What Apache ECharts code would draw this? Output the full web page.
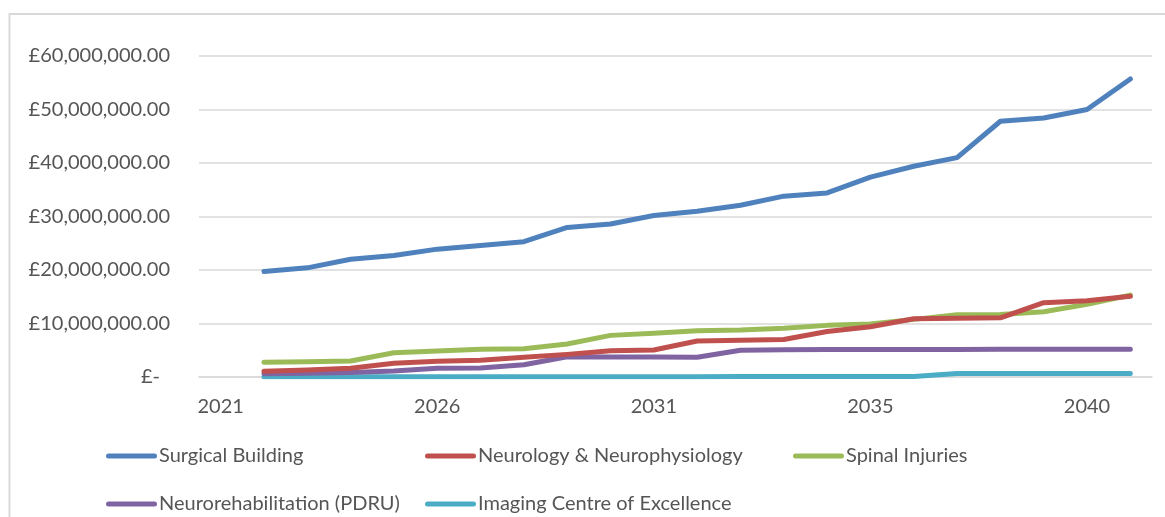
<!DOCTYPE html>
<html>
<head>
<meta charset="utf-8">
<script src="https://cdn.jsdelivr.net/npm/echarts@6/dist/echarts.min.js"></script>
<style>
html,body{margin:0;padding:0;background:#fff;}
#chart{width:1165px;height:517px;}
</style>
</head>
<body>
<div id="chart"></div>
<script>
// Categories (first category has no data)
var categories = ['2021','2022','2023','2024','2025','2026','2027','2028','2029','2030','2031',
  '2032','2032','2033','2034','2035','2036','2037','2038','2039','2040','2041'];

// Values in £ millions
var surgical = [null, 19.7, 20.4, 22.0, 22.7, 23.9, 24.6, 25.3, 27.95, 28.6, 30.2, 31.0, 32.1, 33.8, 34.4, 37.35, 39.4, 41.0, 47.8, 48.4, 50.0, 55.7];
var neurology = [null, 1.06, 1.3, 1.62, 2.56, 2.93, 3.11, 3.67, 4.23, 4.9, 5.04, 6.72, 6.85, 7.0, 8.5, 9.4, 10.9, 10.96, 11.07, 13.9, 14.25, 15.1];
var spinal = [null, 2.74, 2.86, 2.99, 4.54, 4.86, 5.17, 5.3, 6.16, 7.78, 8.16, 8.65, 8.78, 9.1, 9.65, 9.9, 10.77, 11.64, 11.7, 12.2, 13.6, 15.3];
var neurorehab = [null, 0.6, 0.7, 0.85, 1.1, 1.65, 1.7, 2.3, 3.8, 3.75, 3.75, 3.7, 5.0, 5.1, 5.15, 5.15, 5.15, 5.15, 5.2, 5.2, 5.2, 5.2];
var imaging = [null, 0.05, 0.05, 0.05, 0.05, 0.05, 0.05, 0.05, 0.05, 0.05, 0.05, 0.05, 0.1, 0.1, 0.1, 0.1, 0.1, 0.65, 0.65, 0.65, 0.65, 0.65];

var seriesNames = ['Surgical Building', 'Neurology & Neurophysiology', 'Spinal Injuries', 'Neurorehabilitation (PDRU)', 'Imaging Centre of Excellence'];
var seriesValues = [surgical, neurology, spinal, neurorehab, imaging];
var seriesColors = ['#4F81BD', '#C0504D', '#9BBB59', '#8064A2', '#4BACC6'];

var yTickLabels = ['£-', '£10,000,000.00', '£20,000,000.00', '£30,000,000.00', '£40,000,000.00', '£50,000,000.00', '£60,000,000.00'];

var FONT = 'Lato';
var TXT = '#555555';

var legendPos = [[106, 446], [425, 446], [793, 446], [106, 494], [425, 494]];
var capsule = 'path://M2.5,0 H48.5 A2.5,2.5 0 0 1 48.5,5 H2.5 A2.5,2.5 0 0 1 2.5,0 Z';

var chart = echarts.init(document.getElementById('chart'), null, {renderer: 'canvas'});

var series = seriesNames.map(function (n, i) {
  return {
    name: n,
    type: 'line',
    data: seriesValues[i],
    symbol: 'none',
    showSymbol: false,
    smooth: false,
    lineStyle: {width: 5, color: seriesColors[i], cap: 'round', join: 'round'},
    itemStyle: {color: seriesColors[i]},
    z: 10 - i,
    animation: false
  };
});

var legends = seriesNames.map(function (n, i) {
  return {
    data: [{name: n, icon: capsule}],
    left: legendPos[i][0],
    top: legendPos[i][1],
    orient: 'horizontal',
    itemWidth: 51,
    itemHeight: 5,
    padding: 0,
    selectedMode: false,
    itemStyle: {color: seriesColors[i], borderWidth: 0},
    lineStyle: {width: 0, opacity: 0},
    textStyle: {fontFamily: FONT, fontSize: 20, color: TXT, padding: [0, 0, 0, -3]}
  };
});

chart.setOption({
  animation: false,
  backgroundColor: '#ffffff',
  textStyle: {fontFamily: FONT},
  grid: {left: 199, right: 13, top: 56, bottom: 140, containLabel: false},
  xAxis: {
    type: 'category',
    data: categories,
    boundaryGap: true,
    axisLine: {show: true, lineStyle: {color: '#d9d9d9', width: 1.5}},
    axisTick: {show: false},
    axisLabel: {interval: 4, fontFamily: FONT, fontSize: 20, color: TXT, margin: 20},
    splitLine: {show: false}
  },
  yAxis: {
    type: 'value',
    min: 0,
    max: 60,
    interval: 10,
    axisLine: {show: false},
    axisTick: {show: false},
    splitLine: {show: true, lineStyle: {color: '#d9d9d9', width: 1.5}},
    axisLabel: {
      fontFamily: FONT, fontSize: 20, color: TXT, margin: 29,
      formatter: function (v) {
        var idx = Math.round(v / 10);
        return idx === 0 ? '{z|' + yTickLabels[0] + '}' : yTickLabels[idx];
      },
      rich: {z: {fontFamily: FONT, fontSize: 20, color: TXT, padding: [0, 10, 0, 0]}}
    }
  },
  legend: legends,
  graphic: [{
    type: 'rect',
    shape: {x: 9.5, y: 14, width: 1200, height: 600},
    style: {fill: 'none', stroke: '#d9d9d9', lineWidth: 2},
    silent: true,
    z: -1
  }],
  series: series
});
</script>
</body>
</html>
